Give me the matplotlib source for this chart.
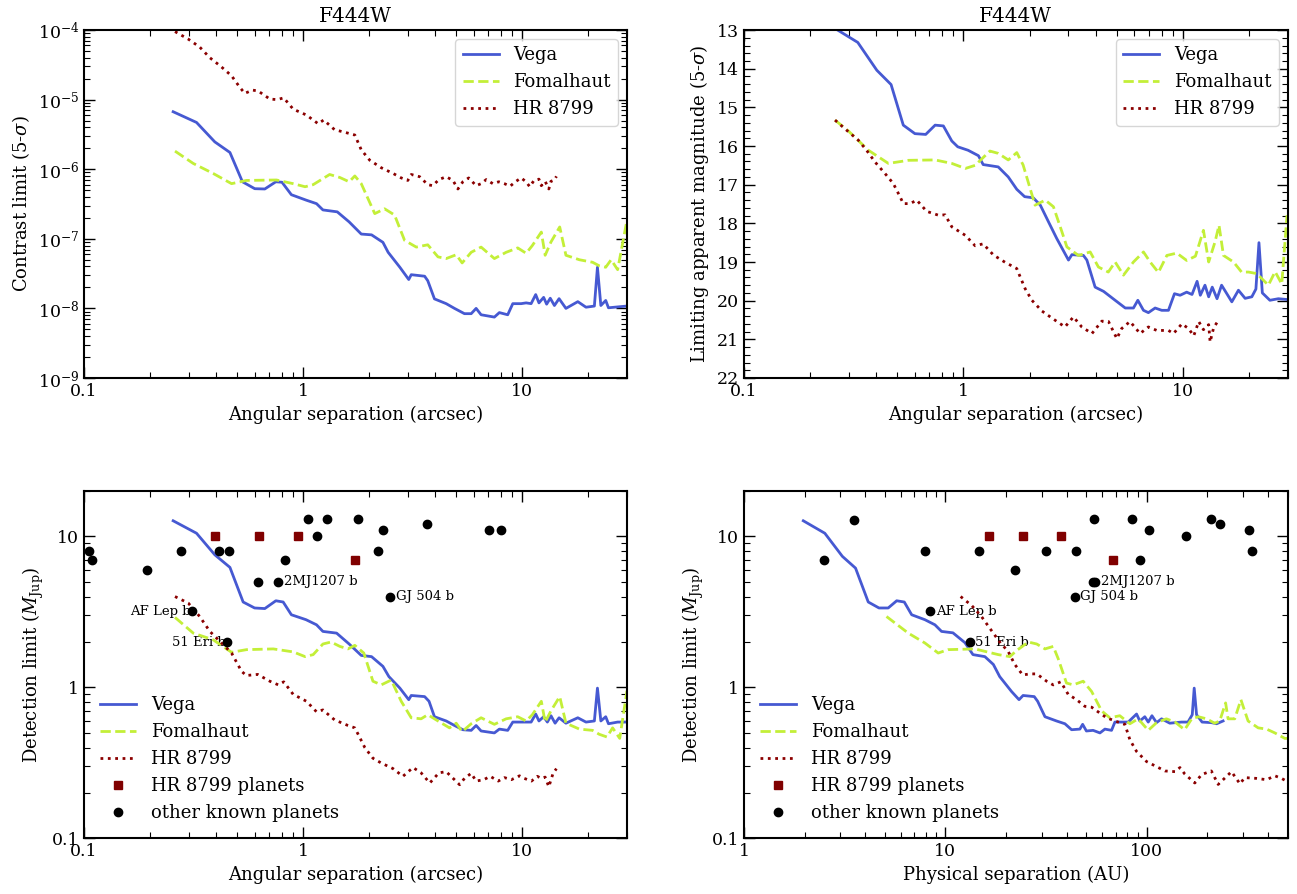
import matplotlib
matplotlib.use("Agg")
import matplotlib.pyplot as plt
from matplotlib.ticker import FuncFormatter, MultipleLocator, NullFormatter, FixedLocator

plt.rcParams['font.family'] = ['DejaVu Serif']
plt.rcParams['mathtext.fontset'] = 'dejavuserif'
plt.rcParams['font.size'] = 12

# ---- contrast vs angular separation (top left) ----
c_vega_x = [0.255, 0.326, 0.395, 0.463, 0.528, 0.601, 0.668, 0.75, 0.80, 0.883, 1.03, 1.15, 1.23, 1.43, 1.62,
            1.84, 2.05, 2.31, 2.44, 2.76, 3.03, 3.11, 3.58, 3.70, 3.97, 4.49, 4.9, 5.44, 5.84, 6.15, 6.48, 7.45,
            7.85, 8.57, 9.04, 9.87, 10.4, 10.96, 11.5, 11.9, 12.5, 12.9, 13.4, 14.0, 14.7, 15.8, 17.9, 19.5,
            21.3, 22.0, 22.8, 24.0, 24.7, 27.2, 29.9]
c_vega_y = [6.7e-6, 4.7e-6, 2.47e-6, 1.74e-6, 6.6e-7, 5.25e-7, 5.2e-7, 6.6e-7, 6.5e-7, 4.3e-7, 3.6e-7, 3.2e-7,
            2.6e-7, 2.44e-7, 1.75e-7, 1.17e-7, 1.14e-7, 8.9e-8, 6.4e-8, 3.9e-8, 2.6e-8, 3.05e-8, 2.9e-8, 2.5e-8,
            1.37e-8, 1.17e-8, 1.0e-8, 8.4e-9, 8.4e-9, 1.0e-8, 8.1e-9, 7.5e-9, 8.7e-9, 8.1e-9, 1.17e-8, 1.17e-8,
            1.2e-8, 1.17e-8, 1.58e-8, 1.2e-8, 1.44e-8, 1.15e-8, 1.4e-8, 1.1e-8, 1.38e-8, 1.0e-8, 1.25e-8,
            1.04e-8, 1.08e-8, 3.9e-8, 1.1e-8, 1.3e-8, 1.02e-8, 1.05e-8, 1.08e-8]
c_foma_x = [0.26, 0.315, 0.388, 0.471, 0.551, 0.755, 0.9, 1.02, 1.11, 1.32, 1.47, 1.62, 1.72, 1.84, 2.12, 2.35,
            2.61, 2.9, 3.28, 3.7, 4.12, 4.49, 4.99, 5.31, 5.84, 6.48, 7.45, 8.43, 9.52, 10.4, 11.1, 12.2, 12.7,
            13.5, 14.8, 15.8, 18.2, 20.9, 22.4, 24.0, 25.4, 27.2, 29.9]
c_foma_y = [1.82e-6, 1.21e-6, 8.7e-7, 6.2e-7, 6.9e-7, 7.0e-7, 6.2e-7, 5.6e-7, 6.0e-7, 8.4e-7, 7.6e-7, 6.6e-7,
            8.0e-7, 6.2e-7, 2.3e-7, 2.7e-7, 2.2e-7, 9.5e-8, 7.6e-8, 8.2e-8, 5.5e-8, 5.2e-8, 5.9e-8, 4.5e-8,
            6.4e-8, 7.6e-8, 5.2e-8, 6.4e-8, 7.4e-8, 6.2e-8, 8.0e-8, 1.25e-7, 5.8e-8, 9.0e-8, 1.48e-7, 5.8e-8,
            5.0e-8, 4.6e-8, 4.1e-8, 3.9e-8, 5.0e-8, 3.6e-8, 1.75e-7]
c_hr_x = [0.26, 0.299, 0.337, 0.375, 0.421, 0.471, 0.514, 0.541, 0.587, 0.623, 0.704, 0.76, 0.815, 0.9, 1.035,
          1.17, 1.24, 1.39, 1.6, 1.72, 1.84, 2.01, 2.27, 2.57, 2.8, 3.0, 3.11, 3.4, 3.7, 3.9, 4.16, 4.49, 4.82,
          5.08, 5.35, 5.69, 6.15, 6.48, 6.84, 7.33, 7.8, 8.28, 8.79, 9.29, 9.86, 10.4, 10.8, 11.3, 11.9, 12.2,
          12.7, 13.2, 13.5, 14.0, 14.3]
c_hr_y = [9.5e-5, 7.4e-5, 5.7e-5, 4.0e-5, 3.0e-5, 2.2e-5, 1.5e-5, 1.23e-5, 1.37e-5, 1.33e-5, 1.02e-5, 1.0e-5,
          1.06e-5, 7.3e-6, 6.0e-6, 4.5e-6, 5.1e-6, 3.7e-6, 3.3e-6, 3.1e-6, 1.9e-6, 1.35e-6, 1.05e-6, 8.7e-7,
          7.5e-7, 6.9e-7, 8.4e-7, 7.8e-7, 6.0e-7, 5.8e-7, 7.1e-7, 7.8e-7, 6.9e-7, 5.2e-7, 6.6e-7, 7.5e-7,
          5.8e-7, 6.2e-7, 7.1e-7, 6.2e-7, 6.6e-7, 6.2e-7, 5.7e-7, 6.6e-7, 7.5e-7, 6.6e-7, 5.6e-7, 6.9e-7,
          7.2e-7, 5.8e-7, 6.7e-7, 5.2e-7, 6.7e-7, 7.0e-7, 7.9e-7]

# ---- limiting magnitude vs angular separation (top right) ----
m_vega_x = [0.255, 0.33, 0.403, 0.468, 0.532, 0.601, 0.673, 0.743, 0.81, 0.885, 0.942, 1.05, 1.17, 1.23, 1.44,
            1.60, 1.75, 1.90, 2.08, 2.24, 2.44, 2.66, 3.01, 3.12, 3.52, 3.65, 3.98, 4.35, 4.91, 5.46, 5.95, 6.23,
            6.61, 6.96, 7.47, 8.01, 8.59, 9.15, 9.71, 10.4, 11.0, 11.6, 12.0, 12.6, 13.1, 13.6, 14.3, 15.0, 16.7,
            17.9, 19.2, 20.6, 21.5, 22.2, 23.0, 24.9, 27.2, 29.8]
m_vega_y = [12.93, 13.32, 14.04, 14.41, 15.46, 15.68, 15.7, 15.46, 15.48, 15.87, 16.02, 16.11, 16.25, 16.48,
            16.54, 16.8, 17.12, 17.31, 17.34, 17.53, 17.96, 18.39, 18.95, 18.81, 18.83, 18.95, 19.65, 19.76,
            19.99, 20.19, 20.19, 19.99, 20.25, 20.31, 20.19, 20.25, 20.25, 19.82, 19.86, 19.78, 19.84, 19.5,
            19.86, 19.6, 19.9, 19.65, 19.95, 19.6, 20.03, 19.73, 19.94, 19.9, 19.7, 18.5, 19.8, 19.99, 19.95, 19.97]
m_foma_x = [0.26, 0.299, 0.369, 0.455, 0.561, 0.743, 0.885, 1.02, 1.13, 1.32, 1.44, 1.60, 1.75, 1.87, 2.12,
            2.36, 2.57, 2.81, 2.96, 3.34, 3.78, 4.12, 4.57, 4.91, 5.36, 5.95, 6.61, 7.09, 7.73, 8.45, 9.38, 10.4,
            11.4, 12.4, 13.1, 14.0, 14.6, 15.3, 17.0, 18.5, 19.9, 21.7, 24.5, 26.3, 28.2, 29.8]
m_foma_y = [15.33, 15.61, 16.11, 16.45, 16.37, 16.36, 16.45, 16.58, 16.5, 16.13, 16.19, 16.36, 16.17, 16.49,
            17.53, 17.40, 17.57, 18.22, 18.61, 18.83, 18.74, 19.13, 19.26, 19.0, 19.34, 19.0, 18.74, 19.0, 19.27,
            18.83, 18.77, 18.96, 18.85, 18.18, 19.0, 18.48, 18.05, 18.83, 19.0, 19.26, 19.26, 19.3, 19.6, 19.25,
            19.57, 17.79]
m_hr_x = [0.26, 0.299, 0.332, 0.362, 0.395, 0.439, 0.479, 0.514, 0.532, 0.571, 0.613, 0.68, 0.769, 0.825, 0.885,
          1.02, 1.13, 1.23, 1.37, 1.55, 1.75, 1.80, 1.91, 2.05, 2.28, 2.53, 2.90, 3.17, 3.46, 3.85, 4.27, 4.58,
          5.0, 5.26, 5.74, 6.38, 6.96, 7.6, 8.59, 9.06, 9.89, 10.6, 11.2, 11.8, 12.4, 13.1, 13.3, 13.8, 14.5]
m_hr_y = [15.33, 15.63, 15.85, 16.11, 16.41, 16.71, 16.97, 17.31, 17.49, 17.49, 17.40, 17.69, 17.79, 17.78,
          18.09, 18.31, 18.58, 18.53, 18.82, 19.01, 19.17, 19.34, 19.69, 19.99, 20.27, 20.45, 20.68, 20.42,
          20.68, 20.85, 20.53, 20.54, 20.98, 20.72, 20.54, 20.85, 20.68, 20.77, 20.77, 20.85, 20.6, 20.72,
          20.91, 20.54, 20.75, 20.62, 21.07, 20.7, 20.51]

# ---- detection limit (M_Jup) vs angular separation (bottom left) ----
a_vega_x = [0.255, 0.326, 0.395, 0.463, 0.532, 0.60, 0.668, 0.75, 0.81, 0.883, 1.03, 1.15, 1.23, 1.42, 1.62,
            1.84, 2.05, 2.31, 2.46, 2.76, 3.03, 3.11, 3.58, 3.75, 3.97, 4.49, 4.9, 5.35, 5.84, 6.15, 6.48, 7.45,
            7.85, 8.57, 9.04, 10.0, 10.96, 11.5, 11.9, 12.5, 13.0, 13.5, 14.1, 14.7, 15.8, 17.9, 19.5, 21.3,
            22.0, 22.8, 24.0, 24.7, 27.2, 29.9]
a_vega_y = [12.7, 10.5, 7.56, 6.24, 3.68, 3.36, 3.33, 3.75, 3.68, 3.03, 2.81, 2.6, 2.35, 2.29, 1.94, 1.63, 1.6,
            1.38, 1.18, 0.99, 0.83, 0.885, 0.87, 0.81, 0.64, 0.6, 0.56, 0.525, 0.52, 0.56, 0.515, 0.5, 0.53,
            0.52, 0.59, 0.59, 0.59, 0.667, 0.6, 0.64, 0.59, 0.65, 0.58, 0.63, 0.58, 0.63, 0.59, 0.6, 0.99, 0.6,
            0.64, 0.575, 0.59, 0.59]
a_foma_x = [0.26, 0.315, 0.388, 0.471, 0.551, 0.73, 0.9, 1.02, 1.11, 1.23, 1.34, 1.47, 1.6, 1.72, 1.89, 2.08,
            2.27, 2.52, 2.8, 3.11, 3.45, 3.7, 4.12, 4.65, 4.99, 5.31, 5.84, 6.48, 7.45, 8.43, 9.52, 10.4, 11.1,
            12.2, 12.7, 13.5, 14.8, 15.8, 18.2, 20.9, 22.4, 24.3, 25.8, 27.8, 30]
a_foma_y = [2.91, 2.29, 2.07, 1.71, 1.78, 1.8, 1.72, 1.6, 1.65, 1.94, 2.0, 1.87, 1.8, 1.9, 1.69, 1.1, 1.04, 1.12,
            0.81, 0.63, 0.62, 0.66, 0.6, 0.54, 0.58, 0.51, 0.575, 0.63, 0.57, 0.62, 0.64, 0.6, 0.66, 0.81, 0.59,
            0.7, 0.87, 0.58, 0.53, 0.52, 0.49, 0.47, 0.54, 0.46, 0.95]
a_hr_x = [0.26, 0.299, 0.337, 0.375, 0.424, 0.471, 0.523, 0.55, 0.62, 0.704, 0.77, 0.815, 0.9, 1.035, 1.15, 1.23,
          1.39, 1.6, 1.72, 1.78, 1.91, 2.08, 2.27, 2.57, 2.85, 3.17, 3.45, 3.78, 4.16, 4.49, 4.9, 5.17, 5.44,
          5.84, 6.15, 6.66, 7.13, 7.76, 8.28, 8.9, 9.7, 10.2, 11.0, 11.7, 12.2, 12.7, 13.2, 13.8, 14.3]
a_hr_y = [4.0, 3.62, 2.95, 2.35, 1.97, 1.69, 1.28, 1.2, 1.22, 1.1, 1.04, 1.09, 0.9, 0.81, 0.69, 0.71, 0.61, 0.56,
          0.54, 0.49, 0.4, 0.34, 0.316, 0.29, 0.258, 0.295, 0.272, 0.233, 0.272, 0.277, 0.245, 0.227, 0.25,
          0.27, 0.24, 0.245, 0.258, 0.24, 0.253, 0.245, 0.26, 0.25, 0.24, 0.258, 0.25, 0.255, 0.22, 0.27, 0.29]

# ---- detection limit (M_Jup) vs physical separation (bottom right) ----
p_vega_x = [1.97, 2.52, 3.08, 3.58, 4.14, 4.68, 5.2, 5.73, 6.25, 6.8, 7.91, 8.87, 9.57, 10.9, 12.5, 13.7, 15.7,
            17.3, 18.6, 21.3, 23.2, 24.3, 27.6, 28.7, 31.2, 35.6, 39.2, 42.3, 46.5, 48, 50.1, 54.1, 58.5, 61.9,
            66.8, 69.4, 80.8, 88.9, 92.3, 97.7, 101.6, 106, 111.7, 118.3, 130, 148.6, 160, 168, 171.8, 176.5,
            188, 209, 222, 239]
p_vega_y = [12.7, 10.5, 7.38, 6.17, 3.68, 3.36, 3.36, 3.75, 3.68, 3.03, 2.81, 2.6, 2.35, 2.3, 1.98, 1.65, 1.6,
            1.42, 1.18, 0.94, 0.83, 0.885, 0.87, 0.81, 0.64, 0.6, 0.575, 0.525, 0.53, 0.57, 0.515, 0.52, 0.5,
            0.53, 0.52, 0.59, 0.59, 0.667, 0.6, 0.64, 0.59, 0.65, 0.585, 0.62, 0.58, 0.59, 0.59, 0.66, 0.99,
            0.66, 0.59, 0.585, 0.575, 0.6]
p_foma_x = [5.1, 6.54, 7.91, 9.21, 10.3, 14.0, 18.3, 20.9, 22.5, 25.8, 28.4, 31.2, 34.3, 36.3, 39.9, 43.1, 48.3,
            53.2, 59.6, 65.5, 73.4, 82.4, 90.6, 101.6, 111.8, 125, 138, 154, 167, 180, 198, 217, 230, 246, 253,
            273, 293, 318, 357, 393, 432, 484, 500]
p_foma_y = [2.95, 2.29, 1.97, 1.69, 1.78, 1.8, 1.65, 1.6, 1.75, 2.0, 1.94, 1.8, 1.87, 1.55, 1.07, 1.04, 1.1, 0.94,
            0.7, 0.63, 0.65, 0.575, 0.62, 0.52, 0.585, 0.62, 0.59, 0.525, 0.62, 0.64, 0.62, 0.58, 0.6, 0.79,
            0.62, 0.62, 0.83, 0.6, 0.54, 0.53, 0.5, 0.46, 0.46]
p_hr_x = [11.9, 13.5, 15.1, 16.6, 18.6, 20.5, 22.1, 24.2, 26.3, 28.4, 31.8, 34.3, 37.4, 40.7, 44.8, 49.2, 53.2,
          58.5, 63.1, 72, 77.8, 82.4, 88.9, 99.7, 114, 123, 138, 146, 154, 173, 187, 209, 226, 239, 263, 290,
          306, 350, 393, 432, 466, 493]
p_hr_y = [4.0, 3.49, 2.95, 2.47, 2.0, 1.73, 1.42, 1.21, 1.23, 1.23, 1.1, 1.04, 1.09, 0.9, 0.83, 0.75, 0.74,
          0.676, 0.63, 0.59, 0.57, 0.45, 0.377, 0.323, 0.295, 0.28, 0.277, 0.295, 0.268, 0.233, 0.265, 0.28,
          0.228, 0.245, 0.277, 0.23, 0.253, 0.25, 0.245, 0.26, 0.25, 0.24]

# ---- known planets ----
hr_pl_ang = [0.395, 0.626, 0.947, 1.72]
hr_pl_au = [16.4, 24.4, 37.4, 67.6]
hr_pl_mass = [10, 10, 10, 7]

oth_ang = [0.1057, 0.1084, 0.194, 0.277, 0.312, 0.412, 0.458, 0.45, 0.623, 0.77, 0.829, 1.055, 1.16, 1.29,
           1.78, 2.19, 2.3, 2.49, 3.67, 7.06, 8.0]
oth_ang_mass = [8, 7, 6, 8, 3.2, 8, 8, 2.0, 5, 5, 7, 13, 10, 13, 13, 8, 11, 4, 12, 11, 11]
oth_au = [2.5, 3.53, 7.91, 8.4, 14.7, 13.2, 22.1, 31.4, 44.3, 43.9, 54.8, 54.0, 55.5, 84, 92.3, 102.4, 157,
          209, 232, 322, 331]
oth_au_mass = [7, 12.8, 8, 3.2, 8, 2.0, 6, 8, 8, 4, 13, 5, 5, 13, 7, 11, 10, 13, 12, 11, 8]

# name, (x, y) on left panel, side, (x, y) on right panel, side
named = [("AF Lep b", (0.312, 3.2), "left", (8.4, 3.2), "right"),
         ("51 Eri b", (0.45, 2.0), "left", (13.2, 2.0), "right"),
         ("2MJ1207 b", (0.77, 5.0), "right", (55.5, 5.0), "right"),
         ("GJ 504 b", (2.49, 4.0), "right", (43.9, 4.0), "right")]

c_vega = '#4659d2'
c_foma = '#c3ef38'
c_hr = '#8b0000'

fig = plt.figure(figsize=(12.97, 8.94), dpi=100)
axes = [fig.add_axes([0.0648, 0.5772, 0.4186, 0.3892]),
        fig.add_axes([0.5736, 0.5772, 0.4192, 0.3892]),
        fig.add_axes([0.0648, 0.0621, 0.4186, 0.3887]),
        fig.add_axes([0.5736, 0.0621, 0.4192, 0.3887])]

fmt_g = FuncFormatter(lambda v, p: '%g' % v)
lab_fs = 13


def style(ax):
    ax.tick_params(which='both', direction='in', top=True, right=True, labelsize=12.5)
    ax.tick_params(which='major', length=8, width=1.0)
    ax.tick_params(which='minor', length=4, width=0.8)
    for s in ax.spines.values():
        s.set_linewidth(1.5)


def curves(ax, xs, ys):
    ax.plot(xs[0], ys[0], '-', color=c_vega, lw=2.0, label='Vega')
    ax.plot(xs[1], ys[1], '--', color=c_foma, lw=2.0, label='Fomalhaut')
    ax.plot(xs[2], ys[2], ':', color=c_hr, lw=2.0, label='HR 8799')


# top left
ax = axes[0]
curves(ax, [c_vega_x, c_foma_x, c_hr_x], [c_vega_y, c_foma_y, c_hr_y])
ax.set_xscale('log')
ax.set_yscale('log')
ax.set_xlim(0.1, 30)
ax.set_ylim(1e-9, 1e-4)
ax.xaxis.set_major_formatter(fmt_g)
ax.xaxis.set_minor_formatter(NullFormatter())
ax.set_xlabel('Angular separation (arcsec)', fontsize=lab_fs)
ax.set_ylabel(r'Contrast limit (5-$\sigma$)', fontsize=lab_fs)
ax.set_title('F444W', fontsize=14.5)
ax.legend(loc='upper right', fontsize=13)
style(ax)

# top right
ax = axes[1]
curves(ax, [m_vega_x, m_foma_x, m_hr_x], [m_vega_y, m_foma_y, m_hr_y])
ax.set_xscale('log')
ax.set_xlim(0.1, 30)
ax.set_ylim(22, 13)
ax.yaxis.set_major_locator(MultipleLocator(1))
ax.yaxis.set_minor_locator(MultipleLocator(0.2))
ax.xaxis.set_major_formatter(fmt_g)
ax.xaxis.set_minor_formatter(NullFormatter())
ax.set_xlabel('Angular separation (arcsec)', fontsize=lab_fs)
ax.set_ylabel(r'Limiting apparent magnitude (5-$\sigma$)', fontsize=lab_fs)
ax.set_title('F444W', fontsize=14.5)
ax.legend(loc='upper right', fontsize=13)
style(ax)

# bottom panels
for k, ax in enumerate(axes[2:]):
    if k == 0:
        curves(ax, [a_vega_x, a_foma_x, a_hr_x], [a_vega_y, a_foma_y, a_hr_y])
        ax.plot(hr_pl_ang, hr_pl_mass, 's', color='#800000', ms=6, ls='none', label='HR 8799 planets')
        ax.plot(oth_ang, oth_ang_mass, 'o', color='black', ms=6, ls='none', label='other known planets')
        ax.set_xlim(0.1, 30)
        ax.set_xlabel('Angular separation (arcsec)', fontsize=lab_fs)
    else:
        curves(ax, [p_vega_x, p_foma_x, p_hr_x], [p_vega_y, p_foma_y, p_hr_y])
        ax.plot(hr_pl_au, hr_pl_mass, 's', color='#800000', ms=6, ls='none', label='HR 8799 planets')
        ax.plot(oth_au, oth_au_mass, 'o', color='black', ms=6, ls='none', label='other known planets')
        ax.set_xlim(1, 500)
        ax.set_xlabel('Physical separation (AU)', fontsize=lab_fs)
    for name, pl, sl, pr, sr in named:
        pos, side = (pl, sl) if k == 0 else (pr, sr)
        off = (-1, 0) if side == 'left' else (4, 0)
        ax.annotate(name, pos, xytext=off, textcoords='offset points',
                    ha='right' if side == 'left' else 'left', va='center', fontsize=9.5, zorder=1)
    ax.set_xscale('log')
    ax.set_yscale('log')
    ax.set_ylim(0.1, 20)
    ax.yaxis.set_major_locator(FixedLocator([0.1, 1, 10]))
    ax.xaxis.set_major_formatter(fmt_g)
    ax.yaxis.set_major_formatter(fmt_g)
    ax.xaxis.set_minor_formatter(NullFormatter())
    ax.yaxis.set_minor_formatter(NullFormatter())
    ax.set_ylabel(r'Detection limit ($M_{\rm Jup}$)', fontsize=lab_fs)
    ax.legend(loc='lower left', fontsize=13, frameon=False)
    style(ax)

fig.savefig('out.png', dpi=100)
